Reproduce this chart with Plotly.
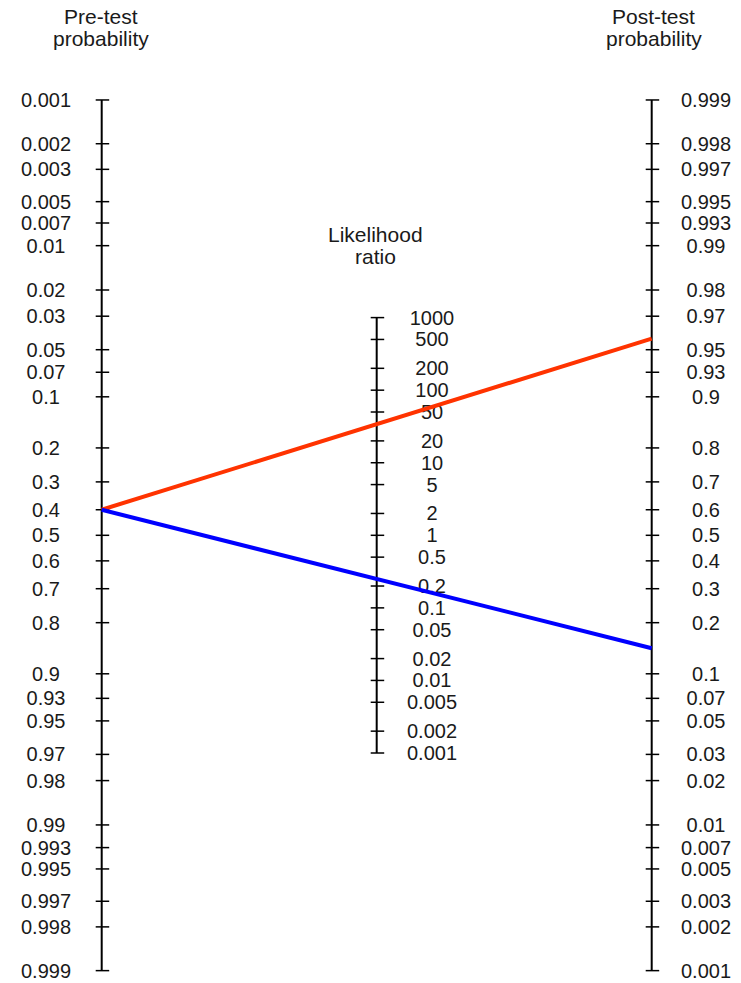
import numpy as np
import plotly.graph_objects as go

# ---- data ----
pre_labels = ["0.001", "0.002", "0.003", "0.005", "0.007", "0.01", "0.02", "0.03",
              "0.05", "0.07", "0.1", "0.2", "0.3", "0.4", "0.5", "0.6", "0.7", "0.8",
              "0.9", "0.93", "0.95", "0.97", "0.98", "0.99", "0.993", "0.995", "0.997",
              "0.998", "0.999"]
post_labels = ["0.999", "0.998", "0.997", "0.995", "0.993", "0.99", "0.98", "0.97",
               "0.95", "0.93", "0.9", "0.8", "0.7", "0.6", "0.5", "0.4", "0.3", "0.2",
               "0.1", "0.07", "0.05", "0.03", "0.02", "0.01", "0.007", "0.005", "0.003",
               "0.002", "0.001"]
lr_labels = ["1000", "500", "200", "100", "50", "20", "10", "5", "2", "1", "0.5", "0.2",
             "0.1", "0.05", "0.02", "0.01", "0.005", "0.002", "0.001"]
pretest = 0.4
lr_positive = 34.0
lr_negative = 0.25

# ---- geometry (pixel scale of the nomogram) ----
W, H = 741, 983
X_LEFT_PX, X_RIGHT_PX = 101.7, 651.7
PX_PER_X = X_RIGHT_PX - X_LEFT_PX
Y_MID_PX = 535.3
K = 63.03  # px per logit unit

def logit(p):
    p = np.asarray(p, dtype=float)
    return np.log(p / (1 - p))

pre_vals = np.array([float(s) for s in pre_labels])
post_vals = np.array([float(s) for s in post_labels])
lr_vals = np.array([float(s) for s in lr_labels])

u_left = -logit(pre_vals)
u_right = logit(post_vals)
u_mid = np.log(lr_vals) / 2.0

def px_dx(px):
    return px / PX_PER_X

TEXT_SHIFT = 2.0 / K
font = dict(family="Liberation Sans, Arial, sans-serif", size=20, color="#1a1a1a")
tfont = dict(family="Liberation Sans, Arial, sans-serif", size=21, color="#1a1a1a")

fig = go.Figure()

# axis lines
for xa, us in [(0.0, u_left), (0.5, u_mid), (1.0, u_right)]:
    fig.add_trace(go.Scatter(x=[xa, xa], y=[us.min(), us.max()], mode="lines",
                             line=dict(color="black", width=2), hoverinfo="skip"))

# tick marks
for xa, us in [(0.0, u_left), (0.5, u_mid), (1.0, u_right)]:
    xs, ys = [], []
    for u in us:
        xs += [xa - px_dx(6), xa + px_dx(7.5), None]
        ys += [u, u, None]
    fig.add_trace(go.Scatter(x=xs, y=ys, mode="lines",
                             line=dict(color="black", width=1.5), hoverinfo="skip"))

# tick labels
for xc, us, labs in [(px_dx(46 - X_LEFT_PX), u_left, pre_labels),
                     (px_dx(432 - X_LEFT_PX), u_mid, lr_labels),
                     (px_dx(706 - X_LEFT_PX), u_right, post_labels)]:
    fig.add_trace(go.Scatter(x=[xc] * len(us), y=us - TEXT_SHIFT, mode="text",
                             text=labs, textposition="middle center",
                             textfont=font, hoverinfo="skip"))

# test lines
pre_odds = pretest / (1 - pretest)
for lr, col in [(lr_positive, "#ff3300"), (lr_negative, "#0000ff")]:
    post_odds = pre_odds * lr
    post_p = post_odds / (1 + post_odds)
    fig.add_trace(go.Scatter(x=[0.0, 1.0], y=[-logit(pretest), logit(post_p)],
                             mode="lines", line=dict(color=col, width=4),
                             hoverinfo="skip"))

# titles
def title(text, xpx, ypx):
    fig.add_annotation(text=text, x=xpx / W, y=1 - ypx / H, xref="paper", yref="paper",
                       showarrow=False, font=tfont, xanchor="center", yanchor="middle",
                       align="center")

title("Pre-test", 101.5, 16)
title("probability", 101.5, 38)
title("Post-test", 653.5, 16)
title("probability", 653.5, 38)
title("Likelihood", 375, 234)
title("ratio", 375, 256)

x_range = [-X_LEFT_PX / PX_PER_X, (W - X_LEFT_PX) / PX_PER_X]
y_range = [-(H - Y_MID_PX) / K, Y_MID_PX / K]

fig.update_layout(
    width=W, height=H, margin=dict(l=0, r=0, t=0, b=0),
    paper_bgcolor="white", plot_bgcolor="white", showlegend=False,
    xaxis=dict(range=x_range, visible=False, fixedrange=True),
    yaxis=dict(range=y_range, visible=False, fixedrange=True),
)

fig.write_html("out.html", config={"displayModeBar": False},
               post_script="document.body.style.margin='0';document.body.style.padding='0';")
